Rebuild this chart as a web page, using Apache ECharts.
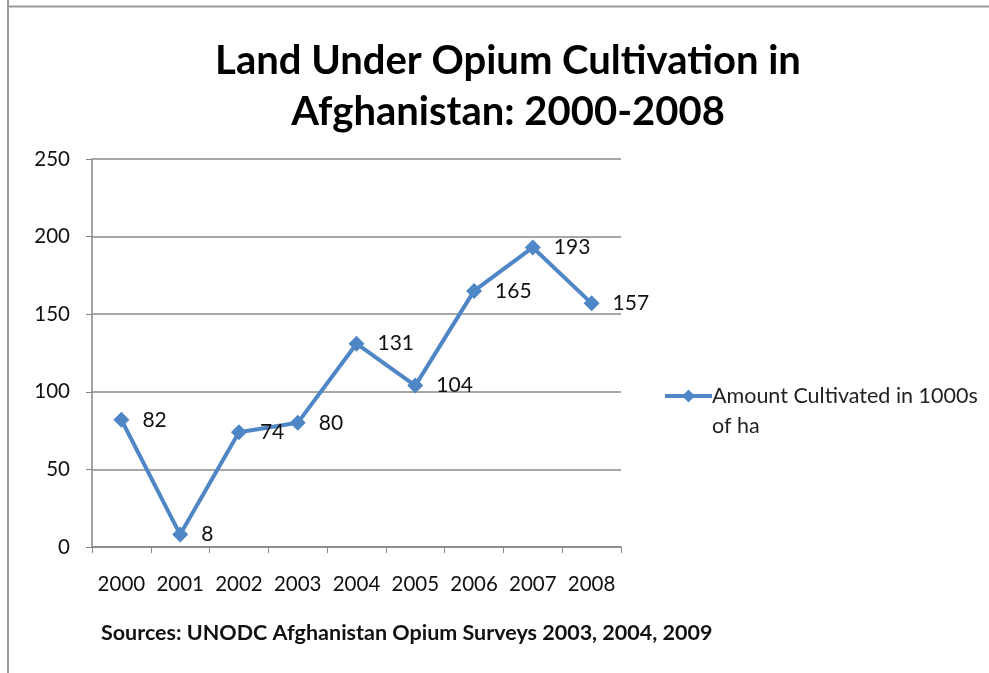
<!DOCTYPE html>
<html>
<head>
<meta charset="utf-8">
<script src="https://cdn.jsdelivr.net/npm/echarts@6/dist/echarts.min.js"></script>
<style>html,body{margin:0;padding:0;background:#fff;}#c{width:989px;height:673px;}</style>
</head>
<body>
<div id="c"></div>
<script>
const categories = ['2000','2001','2002','2003','2004','2005','2006','2007','2008'];
const values = [82, 8, 74, 80, 131, 104, 165, 193, 157];
const seriesName = 'Amount Cultivated in 1000s of ha';
const yTicks = {min: 0, max: 250, interval: 50};
const titleText = 'Land Under Opium Cultivation in\nAfghanistan: 2000-2008';
const sourceText = 'Sources: UNODC Afghanistan Opium Surveys 2003, 2004, 2009';

const FONT = 'Lato';
const chart = echarts.init(document.getElementById('c'));
chart.setOption({
  backgroundColor: '#fff',
  animation: false,
  title: {
    text: titleText,
    left: 503, top: 31, textAlign: 'center',
    textStyle: {fontFamily: FONT, fontWeight: 'bold', fontSize: 40, color: '#000', lineHeight: 51}
  },
  legend: {
    left: 658, top: 346, orient: 'vertical',
    itemWidth: 47, itemHeight: 16,
    lineStyle: {width: 4},
    formatter: () => '\nAmount Cultivated in 1000s\nof ha',
    textStyle: {fontFamily: FONT, fontSize: 21.5, color: '#222', lineHeight: 30, padding: [0,0,0,-5]}
  },
  grid: {left: 92, right: 368, top: 159, bottom: 126},
  xAxis: {
    type: 'category', data: categories, boundaryGap: true,
    axisLine: {lineStyle: {color: '#868686', width: 1.5}},
    axisTick: {show: true, interval: 0, length: 6, lineStyle: {color: '#868686'}},
    axisLabel: {interval: 0, fontFamily: FONT, fontSize: 20.5, color: '#111', margin: 27}
  },
  yAxis: {
    type: 'value', min: yTicks.min, max: yTicks.max, interval: yTicks.interval,
    axisLine: {show: true, lineStyle: {color: '#868686', width: 1.5}},
    axisTick: {show: true, length: 6, lineStyle: {color: '#868686'}},
    axisLabel: {fontFamily: FONT, fontSize: 20.5, color: '#111', margin: 22},
    splitLine: {lineStyle: {color: '#8a8a8a', width: 1.5}}
  },
  series: [{
    name: seriesName, type: 'line', data: values,
    symbol: 'diamond', symbolSize: 16,
    lineStyle: {color: '#4F86C6', width: 4},
    itemStyle: {color: '#4F86C6'},
    label: {show: true, position: 'right', distance: 13, fontFamily: FONT, fontSize: 21, color: '#111'}
  }],
  graphic: [
    {type: 'line', shape: {x1: 8, y1: 0, x2: 8, y2: 673}, style: {stroke: '#9a9a9a', lineWidth: 2}},
    {type: 'line', shape: {x1: 8, y1: 6.5, x2: 989, y2: 6.5}, style: {stroke: '#9a9a9a', lineWidth: 2}},
    {type: 'text', left: 101, top: 622, style: {text: sourceText, font: 'bold 21.5px ' + FONT, fill: '#111'}}
  ]
});
</script>
</body>
</html>
